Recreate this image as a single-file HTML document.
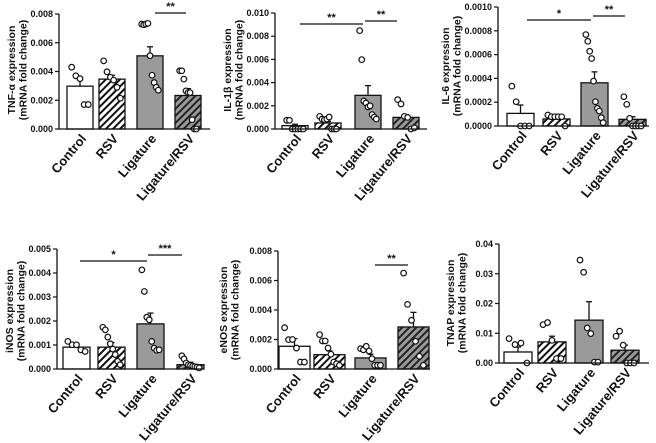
<!DOCTYPE html>
<html><head><meta charset="utf-8">
<style>
html,body{margin:0;padding:0;background:#fff;}
svg{display:block;font-family:"Liberation Sans",Arial,sans-serif;font-weight:bold;}
</style></head>
<body>
<svg id="fig" width="656" height="443" viewBox="0 0 656 443" xmlns="http://www.w3.org/2000/svg">
<defs>
<pattern id="hatchW" patternUnits="userSpaceOnUse" width="5" height="5" patternTransform="rotate(45)">
<rect width="5" height="5" fill="#fff"/><rect x="0" y="0" width="2" height="5" fill="#111"/></pattern>
<pattern id="hatchG" patternUnits="userSpaceOnUse" width="5" height="5" patternTransform="rotate(45)">
<rect width="5" height="5" fill="#9a9a9a"/><rect x="0" y="0" width="2" height="5" fill="#222"/></pattern>
</defs>
</svg>
<script>
const categories=["Control","RSV","Ligature","Ligature/RSV"];
// TNF-a (x0.001)
const tnfMeans=[2.98,3.47,5.09,2.33];
const tnfSem=[0.46,0.27,0.63,0.48];
const tnfPts=[[4.3,3.7,3.5,1.7,1.7],[4.74,3.98,3.6,3.4,2.9,2.14],[7.3,7.25,7.3,7.35,5.1,3.74,3.23,2.9,2.7],[4.05,4.05,3.47,2.65,2.53,2.53,0.65,0.0,0.0]];
const tnfTicks=[0,2,4,6,8];
const tnfTickLabels=["0.000","0.002","0.004","0.006","0.008"];
// IL-1b (x0.001)
const il1Means=[0.29,0.52,2.9,1.0];
const il1Sem=[0.12,0.14,0.84,0.24];
const il1Pts=[[0.75,0.75,0,0,0,0,0],[1.09,0.86,0.8,0.86,1.03,0,0,0],[8.48,5.98,2.41,2.24,1.9,2.0,1.24,1.03,0.86],[2.53,2.16,1.09,1.0,0,0.1]];
const il1Ticks=[0,2,4,6,8,10];
const il1TickLabels=["0.000","0.002","0.004","0.006","0.008","0.010"];
// IL-6 (x0.0001)
const il6Means=[1.06,0.59,3.63,0.56];
const il6Sem=[0.7,0.19,0.92,0.22];
const il6Pts=[[3.35,2.04,0,0,0],[0.92,0.78,0.78,0.78,0.78,0],[7.68,7.12,6.28,5.67,3.77,2.04,1.48,1.26,0.7,0.28],[2.46,1.82,0.64,0,0,0,0]];
const il6Ticks=[0,2,4,6,8,10];
const il6TickLabels=["0.0000","0.0002","0.0004","0.0006","0.0008","0.0010"];
// iNOS (x0.001)
const inosMeans=[0.91,0.91,1.88,0.18];
const inosSem=[0.14,0.19,0.45,0.1];
const inosPts=[[1.15,1.01,1.01,0.8,0.73],[1.74,1.63,1.33,1.05,0.83,0.6,0.32,0.18],[4.13,3.23,2.16,2.05,1.15,0.87,0.78,0.8],[0.55,0.42,0.25,0.18,0.15,0.12,0.1,0.08,0.05]];
const inosTicks=[0,1,2,3,4,5];
const inosTickLabels=["0.000","0.001","0.002","0.003","0.004","0.005"];
// eNOS (x0.001)
const enosMeans=[1.54,0.97,0.75,2.85];
const enosSem=[0.52,0.25,0.25,0.99];
const enosPts=[[2.8,1.99,2.0,1.42,0.47,0.47],[2.33,1.9,1.9,1.42,1.0,0.47,0.36,0.25],[1.38,1.3,1.54,1.22,0.7,0.25,0.25,0.25],[6.5,4.38,3.3,1.88,0.86,0.25]];
const enosTicks=[0,2,4,6,8];
const enosTickLabels=["0.000","0.002","0.004","0.006","0.008"];
// TNAP (x0.01)
const tnapMeans=[0.37,0.71,1.44,0.43];
const tnapSem=[0.17,0.19,0.62,0.17];
const tnapPts=[[0.82,0.62,0.67,0],[1.29,1.36,0.76,0.15,0.15],[3.46,3.05,1.18,0.99,0.03,0.03],[0.9,1.07,0.6,0,0,0]];
const tnapTicks=[0,1,2,3,4];
const tnapTickLabels=["0.00","0.01","0.02","0.03","0.04"];

const svg=document.getElementById('fig');
const NS="http://www.w3.org/2000/svg";
function mk(tag,attrs,parent){const e=document.createElementNS(NS,tag);for(const k in attrs)e.setAttribute(k,attrs[k]);(parent||svg).appendChild(e);return e;}

const fills=["#fff","url(#hatchW)","#9a9a9a","url(#hatchG)"];

function panel(p){
  const g=mk('g',{});
  
  
  const max=p.ticks[p.ticks.length-1];
  const ys=v=>p.y0-(v/max)*(p.y0-p.y1);
  p.means.forEach((m,i)=>{
    const bx=p.bars[i], bw=p.bw, cx=bx+bw/2;
    const r=mk('rect',{x:bx,y:ys(m),width:bw,height:p.y0-ys(m),fill:fills[i],stroke:"#111","stroke-width":1.3},g);
    
    
    const top=ys(m+p.sem[i]);
    mk('line',{x1:cx,x2:cx,y1:ys(m),y2:top,stroke:"#111","stroke-width":1.3},g);
    mk('line',{x1:cx-3,x2:cx+3,y1:top,y2:top,stroke:"#111","stroke-width":1.3},g);
    const pts=p.pts[i], n=pts.length;
    pts.forEach((v,j)=>{
      const off=n>1?(-0.32+0.64*j/(n-1))*bw:0;
      const c=mk('circle',{cx:cx+off,cy:ys(v),r:2.8,fill:"#fff",stroke:"#111","stroke-width":1.2},g);
      
      
    });
    const lx=cx+7, ly=p.y0+10;
    const t=mk('text',{x:lx,y:ly,"text-anchor":"end","font-size":13,transform:`rotate(-50 ${lx} ${ly})`,fill:"#111"},g);
    t.textContent=categories[i];
    
    
  });
  mk('line',{x1:p.ax,x2:p.ax,y1:p.y1,y2:p.y0,stroke:"#111","stroke-width":1.3},g);
  mk('line',{x1:p.ax,x2:p.axEnd,y1:p.y0,y2:p.y0,stroke:"#111","stroke-width":1.3},g);
  p.ticks.forEach((v,i)=>{
    const y=ys(v);
    mk('line',{x1:p.ax-4,x2:p.ax,y1:y,y2:y,stroke:"#111","stroke-width":1.2},g);
    const t=mk('text',{x:p.ax-6,y:y+3,"text-anchor":"end","font-size":9,fill:"#111"},g);
    t.textContent=p.tickLabels[i];
    
    
  });
  const tt=mk('text',{transform:`translate(${p.tx} ${p.ty}) rotate(-90)`,"text-anchor":"middle","font-size":10.5,fill:"#111"},g);
  
  
  const s1=mk('tspan',{x:0,y:0},tt);s1.textContent=p.title;
  const s2=mk('tspan',{x:0,y:11.5},tt);s2.textContent="(mRNA fold change)";
  (p.sig||[]).forEach(s=>{
    mk('line',{x1:s[0],x2:s[1],y1:s[2],y2:s[2],stroke:"#111","stroke-width":1.3},g);
    const t=mk('text',{x:(s[0]+s[1])/2,y:s[2]-3,"text-anchor":"middle","font-size":11,fill:"#111"},g);
    t.textContent=s[3];
    
    
  });
}

panel({name:'tnf',means:tnfMeans,sem:tnfSem,pts:tnfPts,ticks:tnfTicks,tickLabels:tnfTickLabels,
  ax:59,axEnd:210,y0:129,y1:14,bars:[67,99,137,175],bw:26,title:"TNF-α expression",tx:15,ty:70,
  sig:[[155,186,13,"**"]]});
panel({name:'il1b',means:il1Means,sem:il1Sem,pts:il1Pts,ticks:il1Ticks,tickLabels:il1TickLabels,
  ax:275,axEnd:427,y0:129,y1:13,bars:[282,315,355,393],bw:26,title:"IL-1β expression",tx:231,ty:70,
  sig:[[300,363,24,"**"],[365,397,21,"**"]]});
panel({name:'il6',means:il6Means,sem:il6Sem,pts:il6Pts,ticks:il6Ticks,tickLabels:il6TickLabels,
  ax:498,axEnd:649,y0:126,y1:7,bars:[507,543,581,619],bw:27,title:"IL-6 expression",tx:449,ty:66,
  sig:[[527,591,20,"*"],[593,625,16,"**"]]});
panel({name:'inos',means:inosMeans,sem:inosSem,pts:inosPts,ticks:inosTicks,tickLabels:inosTickLabels,
  ax:57,axEnd:203,y0:369,y1:249,bars:[63,98,137,177],bw:27,title:"iNOS expression",tx:13,ty:311,
  sig:[[80,147,261,"*"],[148,182,255,"***"]]});
panel({name:'enos',means:enosMeans,sem:enosSem,pts:enosPts,ticks:enosTicks,tickLabels:enosTickLabels,
  ax:278,axEnd:430,y0:369,y1:251,bars:[279,314,355,398],bw:31,title:"eNOS expression",tx:227,ty:310,
  sig:[[375,408,265,"**"]]});
panel({name:'tnap',means:tnapMeans,sem:tnapSem,pts:tnapPts,ticks:tnapTicks,tickLabels:tnapTickLabels,
  ax:499,axEnd:649,y0:363,y1:244,bars:[504,538,575,611],bw:28,title:"TNAP expression",tx:454,ty:303});
</script>
</body></html>
